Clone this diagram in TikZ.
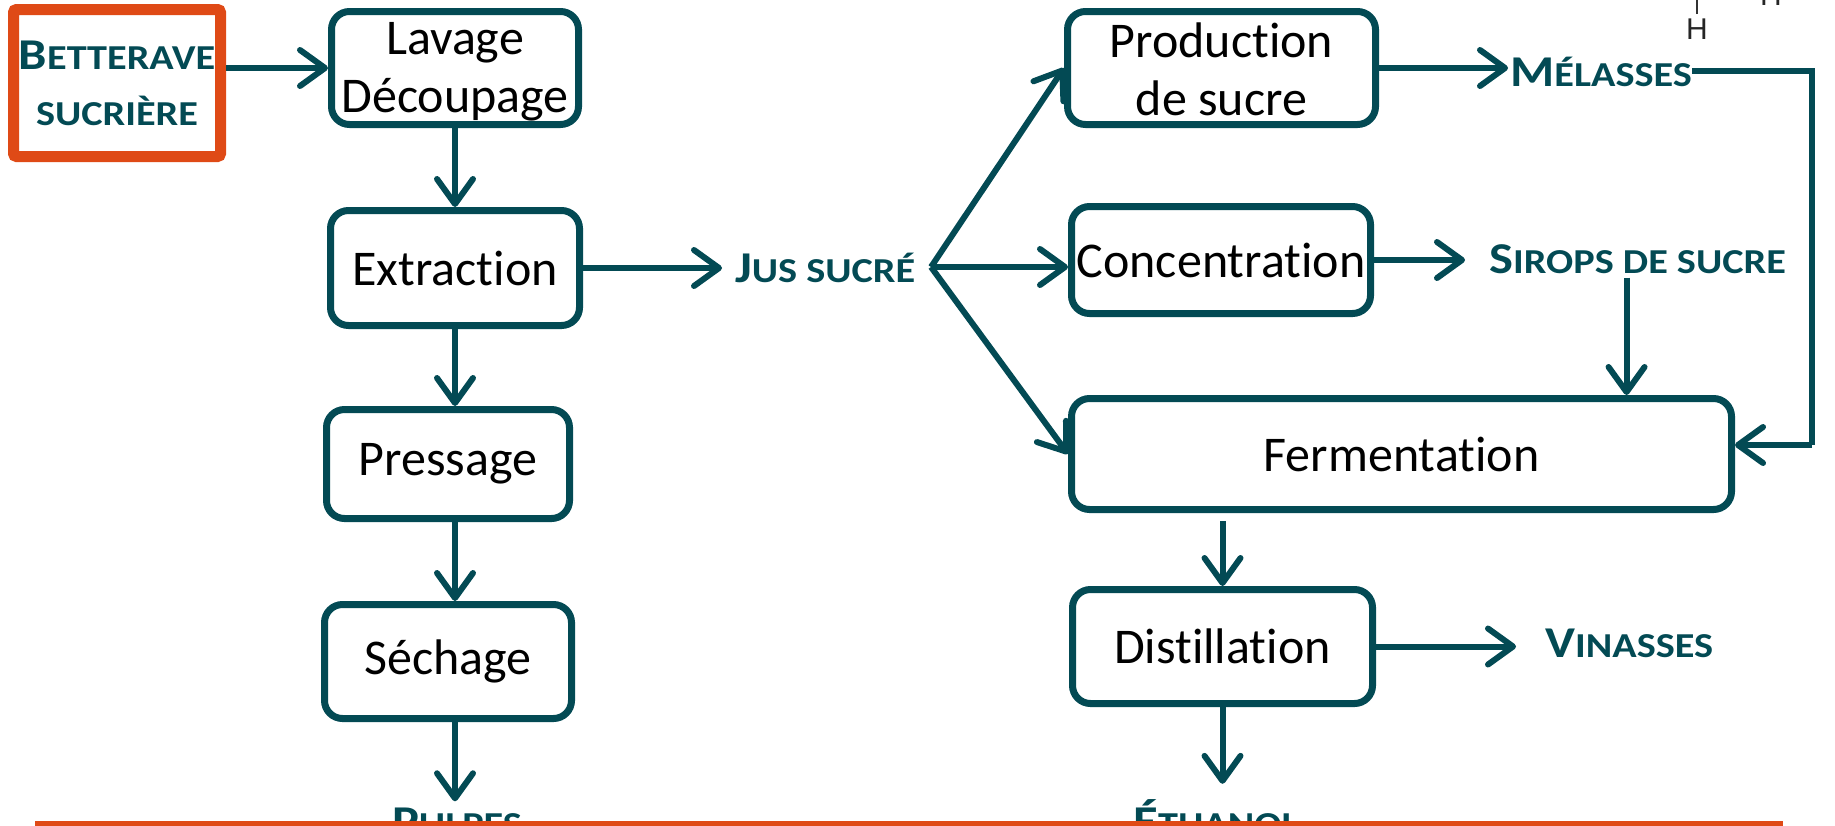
\documentclass[tikz,border=0pt]{standalone}
\usepackage{fontspec}
\setmainfont{Carlito}[Ligatures=NoCommon, Contextuals=NoAlternate, RawFeature={-liga;-calt;-dlig;-clig}]
\newfontfamily\labelfont{Carlito}[FakeStretch=1.15]
\newfontfamily\chemfont{Liberation Sans}
\usetikzlibrary{arrows.meta}

\definecolor{flowteal}{HTML}{034A54}
\definecolor{beetorange}{HTML}{DF4A16}

% large initial capital of a small-caps label
\newcommand\bigsc[1]{{\fontsize{44}{56}\selectfont #1}}
% strut lowering the first line of a two-line box
\newcommand\firstlinestrut{\rule{0pt}{40pt}}

\begin{document}
\begin{tikzpicture}[x=1pt,y=-1pt,
  stepbox/.style={draw=flowteal, line width=7pt, rounded corners=18pt, fill=white,
    inner sep=0pt, align=center, text=black, font=\fontsize{50}{58}\selectfont},
  product/.style={inner sep=0pt, text=flowteal,
    font=\labelfont\bfseries\fontsize{35}{56}\selectfont},
  flow/.style={draw=flowteal, line width=6pt,
    -{Straight Barb[length=25pt,width=36pt,round]}},
  link/.style={draw=flowteal, line width=6pt},
  chem/.style={inner sep=0pt, text=black!85, font=\chemfont\fontsize{30}{30}\selectfont},
]
\useasboundingbox (0,0) rectangle (1835,825);

% raw material
\node[draw=beetorange, line width=11pt, rounded corners=3pt, fill=white,
      minimum width=207pt, minimum height=147pt, inner sep=0pt, align=center,
      text=flowteal, font=\labelfont\bfseries\fontsize{35}{56}\selectfont]
      (betterave) at (117,83) {\bigsc{B}ETTERAVE\\SUCRIÈRE};

% beet processing column
\node[stepbox, minimum width=247pt, minimum height=113pt] (lavage) at (455,68) {\firstlinestrut Lavage\\Découpage};
\node[stepbox, minimum width=249pt, minimum height=115pt] (extraction) at (455,268) {Extraction};
\node[stepbox, minimum width=243pt, minimum height=109pt] (pressage) at (448,464) {Pressage};
\node[stepbox, minimum width=247pt, minimum height=114pt] (sechage) at (448,661.5) {Séchage};

% juice processing
\node[stepbox, minimum width=308pt, minimum height=113pt] (production) at (1221.5,68) {\rule{0pt}{38pt}Production\\de sucre};
\node[stepbox, minimum width=299pt, minimum height=107pt] (concentration) at (1221,260) {Concentration};
\node[stepbox, minimum width=660pt, minimum height=111pt] (fermentation) at (1401.5,454) {Fermentation};
\node[stepbox, minimum width=300pt, minimum height=114pt] (distillation) at (1222.5,646.5) {Distillation};

% products
\node[product, anchor=base west] (jus) at (735,282) {\bigsc{J}US SUCRÉ};
\node[product, anchor=base west] (melasses) at (1510,86) {\bigsc{M}ÉLASSES};
\node[product, anchor=base west] (sirops) at (1489,273) {\bigsc{S}IROPS DE SUCRE};
\node[product, anchor=base west] (vinasses) at (1545,657) {\bigsc{V}INASSES};
\node[product, anchor=base] (pulpes) at (457,836) {\bigsc{P}ULPES};
\node[product, anchor=base] (ethanol) at (1216,836) {\bigsc{É}THANOL};

% chemical formula fragments
\node[chem, anchor=base] (h1) at (1697,39) {H};
\node[chem, anchor=base] (h2) at (1771,5) {H};
\coordinate (bondtop) at (1697,-4);
\draw[black!80, line width=2pt, shorten <=4pt] (h1.north) -- (h1.north |- bondtop);

% connectors
\coordinate (col) at (455,0);
\coordinate (fork) at (931,267);
\coordinate (loop) at (1812,445);

\draw[flow] (betterave.east |- lavage.west) -- (lavage.west);
\draw[flow] (lavage.south) -- (extraction.north);
\draw[flow] (extraction.south) -- (col |- pressage.north);
\draw[flow] (col |- pressage.south) -- (col |- sechage.north);
\draw[flow, shorten >=6pt] (col |- sechage.south) -- (col |- pulpes.north);
\draw[flow, shorten >=13pt] (extraction.east) -- (extraction.east -| jus.west);

\draw[flow] (fork) -- (production.west);
\draw[flow] (fork) -- (fork -| concentration.west);
\draw[flow] (fork) -- (fermentation.west);

\draw[flow, shorten >=2pt] (production.east) -- (production.east -| melasses.west);
\draw[link] (melasses.east) -| (loop);
\draw[flow] (loop) -- (loop -| fermentation.east);

\draw[flow, shorten >=24pt] (concentration.east) -- (concentration.east -| sirops.west);
\draw[flow, shorten <=4pt] ([xshift=-11pt]sirops.south) -- ([xshift=-11pt]sirops.south |- fermentation.north);

\draw[flow, shorten <=8pt] (distillation.north |- fermentation.south) -- (distillation.north);
\draw[flow, shorten >=29pt] (distillation.east) -- (distillation.east -| vinasses.west);
\draw[flow, shorten >=15pt] (distillation.south) -- (distillation.south |- ethanol.north);

% footer rule
\fill[beetorange] (35,821) rectangle (1783,830);
\end{tikzpicture}
\end{document}
